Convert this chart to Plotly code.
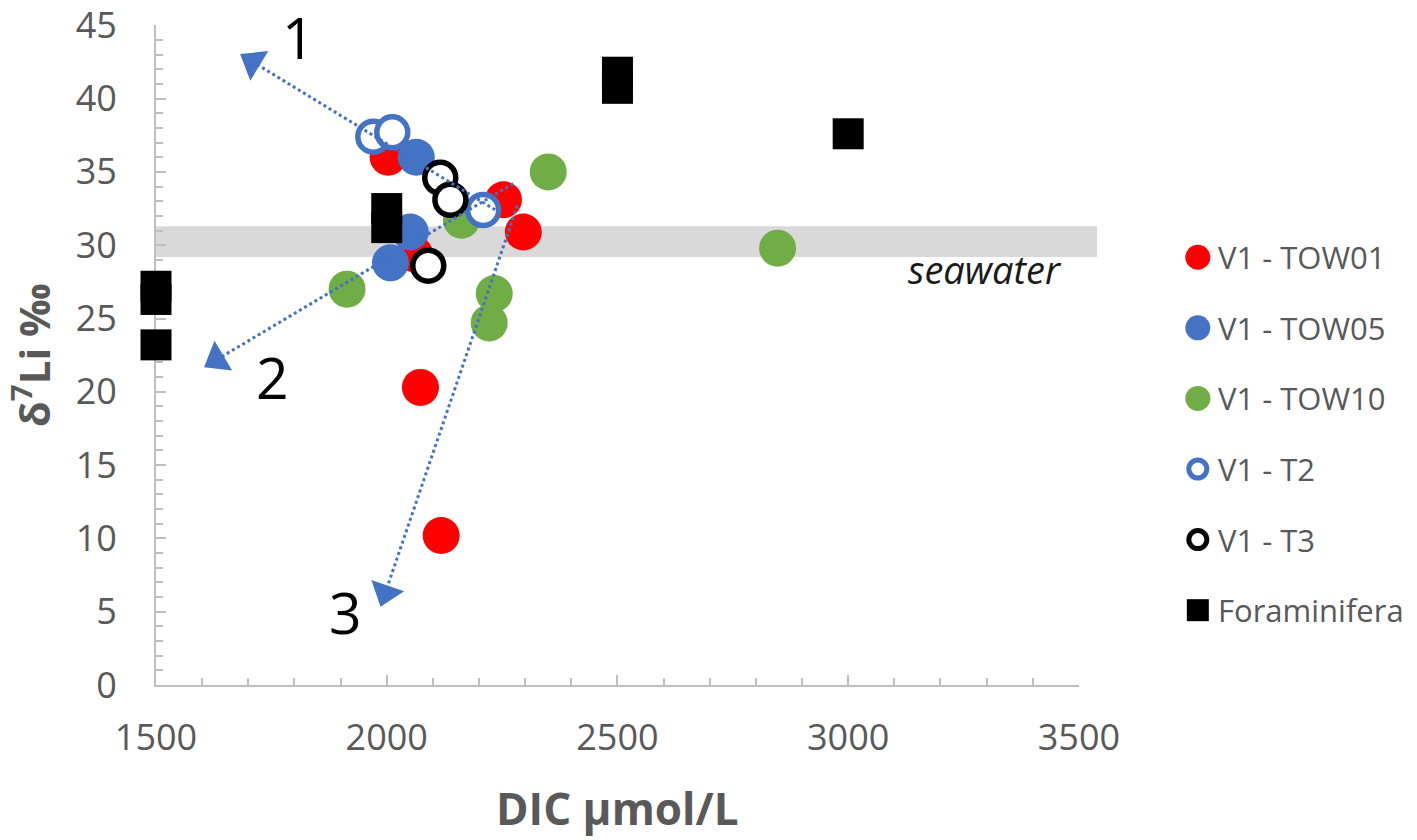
import plotly.graph_objects as go

# DIC (umol/L) and d7Li (permil)
tow01_x = [2003, 2253, 2296, 2060, 2073, 2118]
tow01_y = [36.0, 33.1, 30.9, 29.4, 20.3, 10.2]
tow05_x = [2064, 2051, 2008]
tow05_y = [36.0, 30.9, 28.8]
tow10_x = [2350, 2162, 1914, 2233, 2222, 2847]
tow10_y = [35.0, 31.7, 27.0, 26.7, 24.7, 29.8]
t2_x = [1971, 2012, 2209]
t2_y = [37.4, 37.7, 32.4]
t3_x = [2116, 2138, 2090]
t3_y = [34.6, 33.1, 28.6]
foram_x = [1500, 1500, 1500, 2000, 2000, 2500, 2500, 3000]
foram_y = [27.2, 26.3, 23.2, 32.5, 31.2, 41.8, 40.7, 37.6]

seawater_range = [29.2, 31.3]

# trend arrows: start -> end, and their numbers
arrow_start_x = [2246, 2274, 2283]
arrow_start_y = [32.2, 34.2, 32.7]
arrow_end_x = [1710, 1632, 1997]
arrow_end_y = [42.5, 22.2, 6.3]
arrow_labels = ["1", "2", "3"]
arrow_label_x = [1808, 1752, 1910]
arrow_label_y = [44.2, 21.0, 5.0]

legend_names = ["V1 - TOW01", "V1 - TOW05", "V1 - TOW10", "V1 - T2", "V1 - T3", "Foraminifera"]

RED = "#FF0000"
BLUE = "#4472C4"
GREEN = "#70AD47"
GREY_TXT = "#595959"
FONT = "Open Sans"

series = [
    (tow01_x, tow01_y, dict(symbol="circle", size=37, color=RED)),
    (tow05_x, tow05_y, dict(symbol="circle", size=37, color=BLUE)),
    (tow10_x, tow10_y, dict(symbol="circle", size=37, color=GREEN)),
    (t2_x, t2_y, dict(symbol="circle", size=31, color="white", line=dict(color=BLUE, width=5.5))),
    (t3_x, t3_y, dict(symbol="circle", size=31, color="white", line=dict(color="black", width=5.5))),
    (foram_x, foram_y, dict(symbol="square", size=31, color="black")),
]
legend_markers = [
    dict(symbol="circle", size=25, color=RED),
    dict(symbol="circle", size=25, color=BLUE),
    dict(symbol="circle", size=25, color=GREEN),
    dict(symbol="circle", size=18, color="white", line=dict(color=BLUE, width=5)),
    dict(symbol="circle", size=18, color="white", line=dict(color="black", width=5)),
    dict(symbol="square", size=22, color="black"),
]

fig = go.Figure()

for (xs, ys, mk), name in zip(series, legend_names):
    fig.add_trace(go.Scatter(x=xs, y=ys, mode="markers", name=name, marker=mk,
                             cliponaxis=False, showlegend=False))

# dotted arrows drawn over the points
for i in range(len(arrow_start_x)):
    fig.add_trace(go.Scatter(
        x=[arrow_start_x[i], arrow_end_x[i]], y=[arrow_start_y[i], arrow_end_y[i]],
        mode="lines", showlegend=False, hoverinfo="skip",
        line=dict(color=BLUE, width=3, dash="dot"), cliponaxis=False,
    ))
    fig.add_trace(go.Scatter(
        x=[arrow_start_x[i], arrow_end_x[i]], y=[arrow_start_y[i], arrow_end_y[i]],
        mode="markers", showlegend=False, hoverinfo="skip",
        marker=dict(symbol="triangle-up", size=[0, 30], color=BLUE, angleref="previous",
                    opacity=1, line=dict(width=0)),
        cliponaxis=False,
    ))

# hand-drawn legend on its own small axes at the right
for i, (name, mk) in enumerate(zip(legend_names, legend_markers)):
    fig.add_trace(go.Scatter(x=[0], y=[i], mode="markers", marker=mk, xaxis="x2", yaxis="y2",
                             showlegend=False, hoverinfo="skip", cliponaxis=False))
    fig.add_annotation(x=18, y=i, xref="x2", yref="y2", text=name, showarrow=False,
                       xanchor="left", yanchor="middle",
                       font=dict(family=FONT, size=31, color=GREY_TXT))

for lab, lx, ly in zip(arrow_labels, arrow_label_x, arrow_label_y):
    fig.add_annotation(x=lx, y=ly, text=lab, showarrow=False,
                       font=dict(family=FONT, size=57, color="black"))

fig.add_annotation(x=3467, y=28.4, text="<i>seawater</i>", showarrow=False,
                   xanchor="right", yanchor="middle",
                   font=dict(family=FONT, size=38, color="#1a1a1a"))

# axis titles
fig.add_annotation(x=0.3659, y=-0.186, xref="paper", yref="paper", text="<b>DIC µmol/L</b>",
                   showarrow=False, xanchor="center", yanchor="middle",
                   font=dict(family=FONT, size=44, color=GREY_TXT))
fig.add_annotation(x=-0.099, y=0.5, xref="paper", yref="paper", text="<b>δ<sup>7</sup>Li ‰</b>",
                   showarrow=False, textangle=-90, xanchor="center", yanchor="middle",
                   font=dict(family=FONT, size=42, color=GREY_TXT))

fig.add_shape(type="rect", xref="paper", yref="y", x0=0, x1=0.7462,
              y0=seawater_range[0], y1=seawater_range[1],
              fillcolor="#D9D9D9", line=dict(width=0), layer="below")

axis_common = dict(
    showgrid=False, zeroline=False, showline=True, linecolor="#BFBFBF", linewidth=2,
    ticks="inside", ticklen=10, tickwidth=1.5, tickcolor="#BFBFBF", automargin=False,
    ticklabeloverflow="allow", layer="below traces",
    tickfont=dict(family=FONT, size=36, color=GREY_TXT),
)

# the page body adds an 8px offset, so the figure is 8px smaller and shifted back
fig.update_layout(
    width=1409, height=832,
    margin=dict(l=148, r=0, t=17, b=155),
    plot_bgcolor="white", paper_bgcolor="white",
    xaxis=dict(axis_common, domain=[0, 0.7319], range=[1500, 3500], dtick=500,
               minor=dict(ticks="inside", dtick=100, ticklen=7, tickcolor="#BFBFBF"),
               ticklabelstandoff=20),
    yaxis=dict(axis_common, range=[0, 45.02], tick0=0, dtick=5,
               minor=dict(ticks="inside", dtick=1, ticklen=7, tickcolor="#BFBFBF"),
               ticklabelstandoff=30),
    xaxis2=dict(domain=[0.80, 1.0], range=[-33, 219], visible=False, anchor="y2"),
    yaxis2=dict(domain=[0, 1], range=[6.06, -3.29], visible=False, anchor="x2"),
    showlegend=False,
)

fig.write_html("out.html")
